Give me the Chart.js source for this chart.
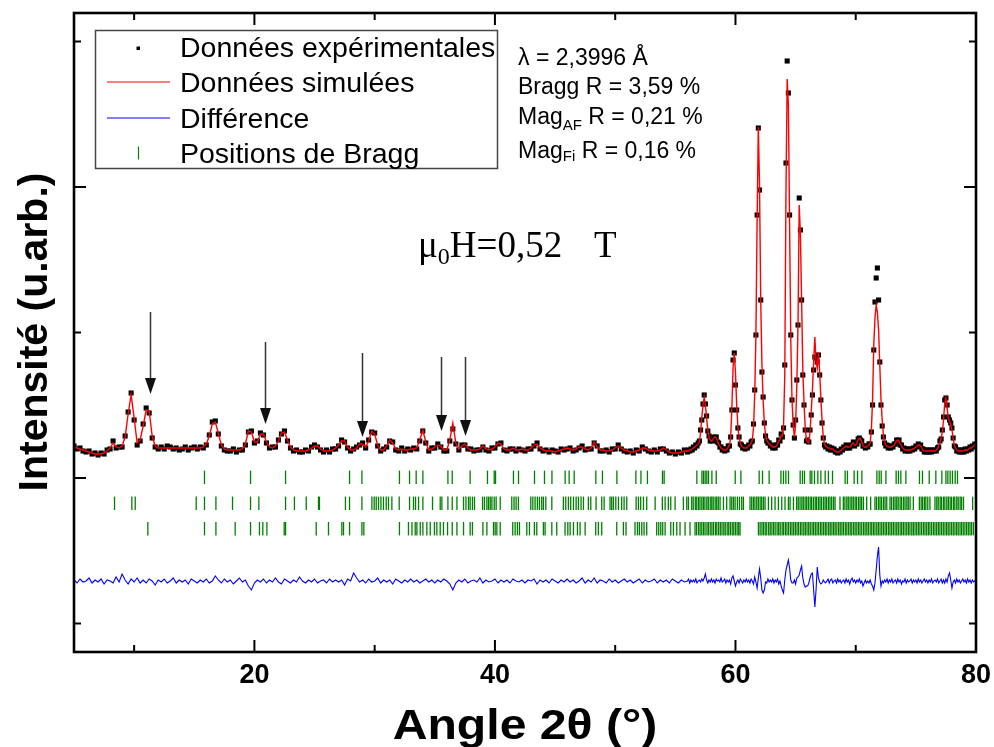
<!DOCTYPE html>
<html>
<head>
<meta charset="utf-8">
<script src="https://cdn.jsdelivr.net/npm/chart.js@4.4.1/dist/chart.umd.min.js"></script>
<style>
html,body{margin:0;padding:0;background:#fff;}
#wrap{position:relative;width:994px;height:747px;}
</style>
</head>
<body>
<div id="wrap"><canvas id="c" width="994" height="747"></canvas></div>
<script>
// ---------------- DATA (intensity in arbitrary units) ----------------
// Low-angle part of the scan: 5.00 -> 55.75 deg, step 0.25 deg
const scanLowStart = 5, scanLowStep = 0.25;
// High-angle part of the scan: 56.0 -> 80.0 deg, step 0.1 deg
const scanHighStart = 56, scanHighStep = 0.1;

const obsLow = [
320,290,300,270, 260,270,240,250, 230,250,240,280, 290,370,300,310, 310,420,660,850,
580,330,370,540, 700,650,400,310, 290,310,290,320, 310,290,300,280, 290,310,280,300,
310,290,310,300, 330,430,560,570, 440,320,280,270, 270,290,260,280, 280,330,460,470,
350,370,450,430, 350,300,310,310, 380,440,470,370, 300,270,280,260, 260,280,270,310,
330,310,280,260, 280,260,290,290, 320,380,360,300, 270,290,310,330, 350,300,380,460,
450,320,270,290, 310,370,360,280, 270,300,270,290, 280,300,290,370, 470,350,270,300,
300,340,310,270, 270,370,490,340, 280,330,330,290, 290,270,280,280, 310,280,270,300,
300,340,350,280, 270,290,290,270, 290,280,270,290, 290,320,350,290, 270,280,260,280,
270,260,290,280, 290,300,270,280, 300,320,280,290, 290,350,320,270, 270,280,260,290,
290,330,290,270, 260,270,250,280, 270,310,290,270, 260,280,260,290, 290,270,250,260,
240,260,250,280
];
const calcLow = [
310,300,290,280, 270,260,250,240, 240,240,250,270, 300,350,310,300, 320,410,640,830,
600,350,380,520, 680,670,420,320, 300,300,300,300, 300,300,300,300, 300,300,300,300,
300,300,300,310, 340,420,540,560, 450,330,290,280, 280,280,280,280, 290,340,470,460,
360,360,440,440, 360,310,300,320, 370,450,460,380, 310,280,270,270, 270,270,280,300,
320,320,290,270, 270,270,280,300, 330,370,370,310, 280,280,300,340, 340,310,370,470,
440,330,280,280, 320,380,350,290, 280,290,280,280, 290,290,300,380, 480,360,280,290,
310,330,320,280, 280,380,550,350, 290,320,340,300, 280,280,280,290, 320,290,280,290,
310,350,340,290, 280,280,300,280, 280,290,280,280, 300,330,340,300, 280,270,270,270,
260,270,280,290, 300,290,280,290, 310,310,290,280, 300,360,310,280, 280,270,270,280,
300,320,300,280, 270,260,260,270, 280,300,300,280, 270,270,270,280, 300,280,260,250,
250,250,260,270
];
const diffLow = [
-1020,-1050,-1010,-1040, -1030,-1000,-1050,-1020, -1040,-1010,-1060,-1020, -1030,-1050,-990,-1040, -960,-1020,-1060,-1010,
-1040,-1000,-1050,-1020, -1050,-1010,-1030,-1070, -1020,-1040,-1010,-1050, -1030,-1000,-1050,-1020, -1040,-1020,-1060,-1010,
-1030,-1050,-1020,-1040, -1010,-1050,-1030,-980, -1020,-1050,-1010,-1040, -1020,-1060,-1030,-1000, -1040,-1020,-1080,-1120,
-1050,-1020,-1040,-1010, -1050,-1020,-1040,-1000, -1040,-1060,-1010,-1030, -1050,-1020,-1040,-990, -1030,-1050,-1020,-1040,
-1010,-1050,-1030,-1020, -1050,-1010,-1040,-1020, -1040,-1020,-1070,-1010, -1030,-950,-1000,-1040, -1020,-1050,-1010,-1040,
-1030,-1000,-1050,-1020, -1040,-1020,-1060,-1010, -1030,-1050,-1020,-1040, -1010,-1040,-1020,-1050, -1030,-1010,-1040,-1020,
-1050,-1020,-1040,-1010, -1030,-1060,-1120,-1050, -1020,-1040,-1010,-1050, -1030,-1020,-1040,-1000, -1050,-1020,-1040,-1030,
-1010,-1050,-1020,-1040, -1020,-1050,-1010,-1030, -1040,-1020,-1050,-1020, -1030,-1010,-1060,-1020, -1040,-1020,-1050,-1010,
-1030,-1050,-1020,-1040, -1010,-1040,-1020,-1050, -1030,-1000,-1050,-1020, -1040,-1000,-1050,-1020, -1030,-1050,-1010,-1040,
-1020,-1050,-1030,-1010, -1040,-1020,-1050,-1030, -1010,-1050,-1020,-1040, -1030,-1010,-1050,-1020, -1040,-1020,-1050,-1010,
-1030,-1050,-1020,-1040
];

const obsHigh = [
260,280,270,290,280,310,300,330,320,350,
370,480,580,740,830,740,620,470,420,370,
380,370,410,400,410,360,350,310,310,280,
290,270,290,280,320,320,410,680,1180,1250,
930,680,500,410,340,330,300,310,290,310,
300,330,320,360,370,540,880,1430,2630,3500,
2880,1780,1060,810,550,420,370,350,350,320,
330,300,320,300,330,330,380,370,440,410,
500,1130,3150,4170,3850,2630,1430,780,530,400,
580,980,1530,2800,2480,1780,1030,730,480,370,
380,360,480,630,830,1080,1210,1200,1160,1230,
1030,780,550,400,330,310,320,290,310,280,
300,280,290,260,270,250,270,260,290,280,
310,300,330,300,320,300,330,330,360,320,
340,340,390,400,380,370,320,320,300,320,
310,340,340,460,730,1280,1760,2000,2100,1780,
1160,730,520,410,350,320,330,300,320,300,
320,310,340,340,380,370,380,330,330,290,
300,270,290,270,290,270,290,280,300,290,
320,310,340,320,330,290,290,260,280,260,
280,260,280,260,280,270,280,270,300,310,
370,390,480,610,780,800,730,610,580,550,
500,400,320,310,270,280,260,280,260,280,
260,290,270,290,280,310,290,320,310,340,
330
];
const calcHigh = [
270,270,280,280,290,300,310,320,330,340,
360,460,600,730,810,730,600,480,410,380,
370,380,400,410,400,370,340,320,300,290,
280,280,280,290,310,330,400,700,1100,1250,
1060,730,510,400,350,320,310,300,300,300,
310,320,330,350,380,500,830,1430,2580,3510,
2930,1780,1130,780,550,430,380,360,340,330,
320,310,310,310,320,340,370,380,430,420,
530,1030,2880,3990,3730,2530,1380,780,530,410,
530,930,1530,2730,2430,1780,1080,750,500,380,
360,350,460,660,880,1160,1410,1160,1100,1260,
1060,800,580,410,340,320,310,300,300,290,
290,290,280,270,260,260,260,270,280,290,
300,310,320,310,310,310,320,340,350,330,
330,350,380,400,390,360,330,310,310,310,
320,330,350,480,780,1330,1600,1730,1660,1480,
1130,780,580,430,360,330,320,310,310,310,
310,320,330,350,370,380,370,340,320,300,
290,280,280,280,280,280,280,290,290,300,
310,320,330,330,320,300,280,270,270,270,
270,270,270,270,270,270,270,280,290,320,
360,400,460,580,750,800,700,600,570,530,
480,400,330,300,280,270,270,270,270,270,
270,280,280,280,290,300,300,310,320,330,
340
];
const diffHigh = [
-1030,-1010,-1050,-1020,-1040,-1020,-1040,-1010,-1050,-1030,
-1020,-1040,-1010,-1030,-1000,-960,-1020,-1050,-1020,-1040,
-1010,-1040,-1020,-1050,-1010,-1030,-1020,-1040,-1000,-1040,
-1030,-1010,-1050,-1020,-1040,-1020,-1060,-1000,-980,-1030,
-1080,-1040,-1020,-1050,-1010,-1030,-1050,-1020,-1040,-1010,
-1040,-1020,-1050,-1010,-1030,-1060,-990,-1040,-1100,-1000,
-910,-1000,-1120,-1150,-1120,-1040,-1050,-1010,-1040,-1020,
-1040,-1010,-1050,-1020,-1040,-1010,-1060,-1030,-1080,-1120,
-1150,-1020,-920,-870,-820,-900,-1020,-1050,-1050,-1020,
-1060,-1000,-990,-970,-920,-880,-1000,-1060,-1090,-1080,
-1080,-1050,-1000,-960,-950,-1120,-1290,-1120,-890,-1000,
-1040,-1060,-1050,-1020,-1040,-1050,-1030,-1010,-1050,-1020,
-1010,-1050,-1030,-1020,-1050,-1010,-1040,-1020,-1050,-1030,
-1020,-1050,-1010,-1040,-1020,-1060,-1020,-1000,-1040,-1020,
-1050,-1020,-1040,-1010,-1050,-1030,-1080,-1050,-1020,-1050,
-1030,-1050,-1020,-1060,-1080,-1120,-1050,-920,-780,-690,
-970,-1080,-1030,-1050,-1020,-1040,-1010,-1050,-1020,-1040,
-1010,-1050,-1030,-1020,-1050,-1010,-1040,-1020,-1060,-1030,
-1040,-1010,-1050,-1020,-1040,-1030,-1010,-1050,-1020,-1040,
-1020,-1050,-1010,-1040,-1020,-1050,-1030,-1010,-1040,-1020,
-1050,-1020,-1040,-1010,-1050,-1030,-1020,-1040,-1010,-1050,
-1030,-1010,-1050,-1020,-1050,-1010,-1040,-980,-950,-1020,
-1100,-1040,-1020,-1050,-1010,-1040,-1020,-1050,-1030,-1010,
-1040,-1020,-1050,-1010,-1040,-1020,-1050,-1020,-1040,-1030,
-1020
];

// Bragg reflection positions (2theta) for the three phases
const braggRow1 = [15.85,19.68,22.59,27.91,28.94,32.06,32.90,33.45,34.01,36.09,36.45,37.94,39.38,39.94,40.05,41.54,41.96,43.29,44.12,44.74,45.84,46.17,46.59,48.39,48.94,50.14,51.72,52.14,52.68,53.93,54.07,56.79,57.21,57.34,57.48,57.62,57.76,58.04,58.40,59.98,60.45,61.97,62.25,62.80,63.78,63.99,64.19,64.41,65.38,65.57,65.74,66.21,66.35,66.57,66.85,67.10,67.46,67.73,68.07,69.12,69.31,69.87,70.15,70.51,71.76,71.95,72.12,72.51,73.36,73.55,73.75,74.17,75.30,75.55,76.11,76.66,77.16,77.50,77.66,77.85,78.04,78.27,78.46];
const braggRow2 = [8.37,9.81,10.09,15.16,15.85,16.80,18.18,19.68,20.37,22.59,23.33,24.31,25.33,25.41,27.57,27.91,28.94,29.77,29.96,30.13,30.32,30.52,30.73,30.96,31.15,31.43,32.04,32.90,33.23,33.40,33.65,34.01,34.81,35.45,35.59,36.09,36.45,36.84,37.39,37.59,37.80,37.94,38.13,38.30,38.97,39.13,39.33,39.47,39.61,39.75,39.94,40.10,40.44,41.40,41.59,41.76,41.95,42.98,43.15,43.34,43.53,43.70,43.89,44.03,44.23,44.73,45.69,45.89,46.11,46.30,46.53,46.75,46.94,47.16,47.36,47.77,47.97,48.41,48.88,49.08,49.57,49.71,49.85,50.05,50.27,50.54,50.74,50.96,51.74,51.93,52.12,52.35,52.62,53.32,53.92,54.15,54.42,54.62,54.98,55.67,55.95,56.09,56.36,56.49,56.66,56.78,56.93,57.05,57.20,57.33,57.46,57.62,57.74,57.90,58.03,58.15,58.31,58.44,58.57,58.72,59.00,59.27,59.55,59.69,59.83,59.97,60.16,60.33,60.52,60.66,61.21,61.35,61.49,61.62,61.77,61.90,62.05,62.18,62.32,62.46,62.74,63.01,63.29,63.57,63.85,64.12,64.40,64.54,64.82,65.09,65.22,65.37,65.52,65.64,65.79,65.92,66.06,66.21,66.33,66.48,66.63,66.75,66.90,67.03,67.16,67.32,67.45,67.58,67.73,67.86,68.00,68.15,68.28,68.69,68.97,69.10,69.26,69.38,69.53,69.67,69.80,69.95,70.07,70.23,70.36,70.49,70.64,70.91,71.24,71.60,71.73,71.89,72.02,72.15,72.31,72.44,72.58,72.85,72.98,73.14,73.27,73.41,73.53,73.69,73.81,73.97,74.10,74.25,74.37,74.52,74.79,75.29,75.44,75.56,75.71,75.83,75.99,76.17,76.59,76.74,76.86,77.02,77.13,77.29,77.41,77.57,77.70,77.85,77.97,78.13,78.24,78.40,78.52,78.68,78.80,78.96,79.72];
const braggRow3 = [11.14,15.85,16.80,18.40,19.68,20.42,20.70,21.04,22.48,22.59,25.14,26.16,27.27,27.41,27.91,28.94,29.10,32.06,32.81,33.10,33.37,33.51,33.79,34.01,34.34,34.62,34.97,35.17,35.45,35.72,36.06,36.45,36.84,37.39,37.94,38.13,39.00,39.33,39.88,40.02,40.16,40.44,41.48,41.68,41.87,42.04,42.65,42.87,43.28,43.48,44.03,44.17,44.73,45.14,45.83,46.06,46.25,46.53,46.86,47.08,47.50,48.38,48.60,48.88,50.13,50.68,50.90,51.65,51.85,52.01,52.21,52.40,52.62,53.45,53.62,53.79,53.95,54.15,54.62,54.84,55.12,55.39,55.81,56.22,56.64,56.77,56.93,57.06,57.20,57.34,57.47,57.63,57.75,57.90,58.04,58.17,58.33,58.45,58.60,58.74,58.88,59.03,59.15,59.31,59.44,59.58,59.73,59.86,60.00,60.14,60.27,60.38,61.91,62.05,62.20,62.33,62.47,62.60,62.76,62.89,63.03,63.17,63.30,63.46,63.59,63.72,63.88,64.00,64.15,64.28,64.42,64.57,64.70,64.84,64.98,65.12,65.25,65.40,65.53,65.68,65.81,65.95,66.09,66.22,66.37,66.50,66.64,66.78,66.91,67.06,67.19,67.33,67.47,67.60,67.75,67.88,68.02,68.16,68.29,68.43,68.58,68.71,68.85,68.98,69.13,69.26,69.40,69.54,69.67,69.82,69.95,70.09,70.23,70.36,70.50,70.65,70.78,70.92,71.05,71.20,71.33,71.47,71.60,71.75,71.88,72.02,72.16,72.30,72.44,72.57,72.72,72.85,72.99,73.13,73.27,73.41,73.54,73.69,73.82,73.96,74.10,74.24,74.38,74.51,74.66,74.79,74.93,75.07,75.21,75.34,75.48,75.63,75.76,75.90,76.04,76.17,76.31,76.46,76.59,76.73,76.87,77.00,77.14,77.28,77.42,77.56,77.69,77.83,77.97,78.11,78.25,78.39,78.52,78.67,78.80,78.94,79.08,79.22,79.36,79.50,79.63,79.78];
const braggLevels = [7, -253, -507];

// Axis ticks (no numeric labels on intensity axis)
const xMajorTicks = [20, 40, 60, 80];
const xMinorTicks = [10, 30, 50, 70];
const xTickLabels = ['20', '40', '60', '80'];
const yMajorTicks = [0, 2910];
const yMinorTicks = [-1455, 1455, 4365];

// Arrows marking peaks (2theta, start intensity, tip intensity)
const arrowAngles = [11.33, 20.89, 28.95, 35.52, 37.48];
const arrowFrom   = [1660, 1360, 1250, 1210, 1210];
const arrowTo     = [840, 540, 410, 470, 420];

const seriesNames = ['Données expérimentales', 'Données simulées', 'Différence', 'Positions de Bragg'];
// --------------------------------------------------------------------

function scanPoints(start, step, vals) {
  return vals.map((v, i) => ({ x: Math.round((start + i * step) * 100) / 100, y: v }));
}
const obsPts  = scanPoints(scanLowStart, scanLowStep, obsLow).concat(scanPoints(scanHighStart, scanHighStep, obsHigh));
const calcPts = scanPoints(scanLowStart, scanLowStep, calcLow).concat(scanPoints(scanHighStart, scanHighStep, calcHigh));
const diffPts = scanPoints(scanLowStart, scanLowStep, diffLow).concat(scanPoints(scanHighStart, scanHighStep, diffHigh));
const braggRows = [braggRow1, braggRow2, braggRow3];

const SANS = '"Liberation Sans", Arial, Helvetica, sans-serif';
const SERIF = '"Liberation Serif", "Times New Roman", serif';
const GREEN = 'rgb(0,128,0)';

const datasets = [
  { label: seriesNames[1], data: calcPts, showLine: true, borderColor: '#ff0000', borderWidth: 1.4,
    pointRadius: 0, tension: 0, order: 0 },
  { label: seriesNames[0], data: obsPts, showLine: false, pointStyle: 'rect', pointRadius: 3.6,
    pointBackgroundColor: '#000', pointBorderColor: '#000', pointBorderWidth: 0, order: 1 },
  { label: seriesNames[2], data: diffPts, showLine: true, borderColor: '#0000ff', borderWidth: 1.1,
    pointRadius: 0, tension: 0, order: 2 }
];
braggRows.forEach((row, k) => {
  datasets.push({
    label: k === 0 ? seriesNames[3] : '', data: row.map(a => ({ x: a, y: braggLevels[k] })),
    showLine: false, pointStyle: 'line', pointRotation: 90, pointRadius: 6.7,
    pointBorderColor: GREEN, pointBackgroundColor: GREEN, pointBorderWidth: 1.3, order: 3
  });
});

const deco = {
  id: 'deco',
  afterDatasetsDraw(chart) {
    const { ctx, chartArea: a, scales: { x, y } } = chart;
    ctx.save();
    const seg = (x1, y1, x2, y2) => { ctx.beginPath(); ctx.moveTo(x1, y1); ctx.lineTo(x2, y2); ctx.stroke(); };

    // arrows
    ctx.strokeStyle = '#333'; ctx.fillStyle = '#111'; ctx.lineWidth = 1.5;
    arrowAngles.forEach((ang, i) => {
      const px = Math.round(x.getPixelForValue(ang)) + 0.5;
      const y0 = y.getPixelForValue(arrowFrom[i]), y1 = y.getPixelForValue(arrowTo[i]);
      seg(px, y0, px, y1 - 12);
      ctx.beginPath(); ctx.moveTo(px, y1); ctx.lineTo(px - 5.5, y1 - 16); ctx.lineTo(px + 5.5, y1 - 16); ctx.closePath(); ctx.fill();
    });

    // frame
    ctx.strokeStyle = '#000'; ctx.lineWidth = 2.6;
    ctx.strokeRect(a.left, a.top, a.right - a.left, a.bottom - a.top);
    // ticks (inward)
    ctx.lineWidth = 2;
    xMajorTicks.forEach(v => { const p = x.getPixelForValue(v); seg(p, a.bottom, p, a.bottom - 12); seg(p, a.top, p, a.top + 12); });
    xMinorTicks.forEach(v => { const p = x.getPixelForValue(v); seg(p, a.bottom, p, a.bottom - 7); seg(p, a.top, p, a.top + 7); });
    yMajorTicks.forEach(v => { const p = y.getPixelForValue(v); seg(a.left, p, a.left + 12, p); seg(a.right, p, a.right - 12, p); });
    yMinorTicks.forEach(v => { const p = y.getPixelForValue(v); seg(a.left, p, a.left + 7, p); seg(a.right, p, a.right - 7, p); });

    // tick labels
    ctx.fillStyle = '#000';
    ctx.font = 'bold 27px ' + SANS; ctx.textAlign = 'center'; ctx.textBaseline = 'alphabetic';
    xMajorTicks.forEach((v, i) => ctx.fillText(xTickLabels[i], x.getPixelForValue(v), a.bottom + 31));

    // axis titles
    ctx.save();
    ctx.translate(525, 739); ctx.scale(1.12, 1);
    ctx.font = 'bold 43px ' + SANS;
    ctx.fillText('Angle 2θ (°)', 0, 0);
    ctx.restore();
    ctx.save();
    ctx.translate(47, 332); ctx.rotate(-Math.PI / 2);
    ctx.font = 'bold 41px ' + SANS;
    ctx.fillText('Intensité (u.arb.)', 0, 0);
    ctx.restore();

    // legend
    ctx.strokeStyle = '#444'; ctx.lineWidth = 1.5;
    ctx.strokeRect(95.5, 30.5, 402, 138);
    const rows = [47, 82, 118, 153];
    const ds = chart.data.datasets;
    ctx.fillStyle = ds[1].pointBackgroundColor; ctx.fillRect(136.5, 46.5, 3.5, 3.5);
    ctx.strokeStyle = ds[0].borderColor; ctx.lineWidth = 1.2; seg(107, rows[1], 170, rows[1]);
    ctx.strokeStyle = ds[2].borderColor; ctx.lineWidth = 1.2; seg(107, rows[2], 170, rows[2]);
    ctx.strokeStyle = ds[3].pointBorderColor; ctx.lineWidth = 1.2; seg(138.5, rows[3] - 6.5, 138.5, rows[3] + 6.5);
    ctx.fillStyle = '#000'; ctx.textAlign = 'left'; ctx.font = '28.5px ' + SANS;
    const legendOrder = [0, 1, 2, 3];
    legendOrder.forEach((k, i) => ctx.fillText(seriesNames[k], 180, rows[i] + 9.5));

    // refinement info
    ctx.font = '23px ' + SANS;
    ctx.fillText('λ = 2,3996 Å', 518, 65);
    ctx.fillText('Bragg R = 3,59 %', 518, 94);
    const mixed = (xx, yy, parts) => parts.forEach(([t, f, dy]) => { ctx.font = f; ctx.fillText(t, xx, yy + dy); xx += ctx.measureText(t).width; });
    mixed(518, 124, [['Mag', '23px ' + SANS, 0], ['AF', '15px ' + SANS, 6], [' R = 0,21 %', '23px ' + SANS, 0]]);
    mixed(518, 158, [['Mag', '23px ' + SANS, 0], ['Fi', '15px ' + SANS, 3], [' R = 0,16 %', '23px ' + SANS, 0]]);

    // field label
    mixed(418, 257, [['μ', '37px ' + SERIF, 0], ['0', '24px ' + SERIF, 7], ['H=0,52', '37px ' + SERIF, 0]]);
    ctx.font = '37px ' + SERIF; ctx.fillText('T', 594, 257);

    ctx.restore();
  }
};

new Chart(document.getElementById('c'), {
  type: 'scatter',
  data: { datasets },
  options: {
    responsive: false,
    animation: false,
    events: [],
    devicePixelRatio: 1,
    layout: { padding: { left: 74, right: 18, top: 13, bottom: 95 } },
    plugins: { legend: { display: false }, tooltip: { enabled: false }, title: { display: false } },
    scales: {
      x: { type: 'linear', min: 5, max: 80, display: false },
      y: { type: 'linear', min: -1740, max: 4650, display: false }
    }
  },
  plugins: [deco]
});
</script>
</body>
</html>
